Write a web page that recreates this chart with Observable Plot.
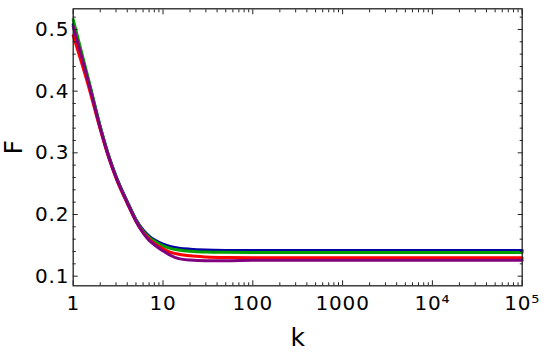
<!DOCTYPE html>
<html>
<head>
<meta charset="utf-8">
<script src="https://cdn.jsdelivr.net/npm/d3@7"></script>
<script src="https://cdn.jsdelivr.net/npm/@observablehq/plot@0.6"></script>
<style>
  html, body { margin: 0; padding: 0; background: #fff; }
  #chart svg { display: block; }
</style>
</head>
<body>
<div id="chart"></div>
<script>
// ---- data ----
const kValues = [1, 1.5, 2, 2.5, 3, 4, 5, 6, 7, 8, 10, 12, 15, 20, 30, 50, 100, 1000, 10000, 100000];
const blueF   = [0.508, 0.413, 0.342, 0.294, 0.262, 0.221, 0.192, 0.175, 0.165, 0.159, 0.1520, 0.1480, 0.1455, 0.1438, 0.1425, 0.1418, 0.1415, 0.1415, 0.1415, 0.1415];
const greenF  = [0.516, 0.416, 0.343, 0.294, 0.261, 0.220, 0.191, 0.173, 0.163, 0.157, 0.1490, 0.1450, 0.1425, 0.1405, 0.1392, 0.1387, 0.1385, 0.1385, 0.1385, 0.1385];
const redF    = [0.490, 0.405, 0.338, 0.291, 0.259, 0.218, 0.189, 0.171, 0.160, 0.153, 0.1445, 0.1390, 0.1355, 0.1330, 0.1312, 0.1302, 0.1298, 0.1298, 0.1298, 0.1298];
const purpleF = [0.505, 0.411, 0.340, 0.292, 0.260, 0.219, 0.189, 0.170, 0.158, 0.151, 0.1410, 0.1340, 0.1285, 0.1262, 0.1252, 0.1252, 0.1258, 0.1260, 0.1260, 0.1260];
const seriesNames  = ["blue", "green", "red", "purple"];
const seriesColors = ["#0000a8", "#00a000", "#ff0000", "#800080"];
const seriesValues = [blueF, greenF, redF, purpleF];

const xMajorTicks  = [1, 10, 100, 1000, 10000, 100000];
const xTickLabels  = ["1", "10", "100", "1000", "10\u2074", "10\u2075"];
const yMajorTicks  = [0.1, 0.2, 0.3, 0.4, 0.5];
const yTickLabels  = ["0.1", "0.2", "0.3", "0.4", "0.5"];
const xTitle = "k";
const yTitle = "F";

// ---- build tables ----
const rows = [];
seriesNames.forEach((name, s) => {
  kValues.forEach((k, i) => rows.push({series: name, k, F: seriesValues[s][i]}));
});
const xMinorTicks = [];
for (let d = 1; d < 100000; d *= 10) for (let m = 2; m <= 9; m++) xMinorTicks.push(d * m);
const yMinorTicks = d3.range(10, 53, 2).map(v => v / 100).filter(v => !yMajorTicks.some(t => Math.abs(t - v) < 1e-9));

const font = "DejaVu Sans, Verdana, sans-serif";
const ink = "#222";

const axisTicks = (axis, anchor, ticks, size) =>
  axis({anchor, ticks, tickSize: -size, text: null, label: null, stroke: ink, strokeWidth: 1});

const chart = Plot.plot({
  width: 550,
  height: 352,
  marginLeft: 72.7,
  marginRight: 28.3,
  marginTop: 8.3,
  marginBottom: 66.7,
  style: {fontFamily: font, background: "#fff", color: "#000"},
  x: {type: "log", domain: [1, 100000]},
  y: {domain: [0.0844, 0.5335]},
  color: {domain: seriesNames, range: seriesColors},
  marks: [
    ...seriesNames.map((name, s) => Plot.line(rows.filter(r => r.series === name), {
      x: "k", y: "F", stroke: seriesColors[s], strokeWidth: 3, curve: "monotone-x"
    })),
    Plot.frame({stroke: ink, strokeWidth: 1.3}),
    axisTicks(Plot.axisX, "bottom", xMajorTicks, 5),
    axisTicks(Plot.axisX, "bottom", xMinorTicks, 3),
    axisTicks(Plot.axisX, "top", xMajorTicks, 5),
    axisTicks(Plot.axisX, "top", xMinorTicks, 3),
    axisTicks(Plot.axisY, "left", yMajorTicks, 5),
    axisTicks(Plot.axisY, "left", yMinorTicks, 3),
    axisTicks(Plot.axisY, "right", yMajorTicks, 5),
    axisTicks(Plot.axisY, "right", yMinorTicks, 3),
    Plot.axisX({
      anchor: "bottom", ticks: xMajorTicks, tickSize: 0, tickPadding: 10,
      tickFormat: d => xTickLabels[xMajorTicks.indexOf(d)],
      fontSize: 20, fill: "#000",
      label: xTitle, labelAnchor: "center", labelArrow: "none", labelOffset: 60
    }),
    Plot.axisY({
      anchor: "left", ticks: yMajorTicks, tickSize: 0, tickPadding: 4,
      tickFormat: d => yTickLabels[yMajorTicks.findIndex(t => Math.abs(t - d) < 1e-9)],
      fontSize: 20, fill: "#000",
      label: yTitle, labelAnchor: "center", labelArrow: "none", labelOffset: 69
    })
  ]
});
// tick label spacing and axis title size
chart.querySelectorAll("g[aria-label='x-axis tick label'], g[aria-label='y-axis tick label']").forEach(g => {
  g.setAttribute("letter-spacing", "0.8");
});
chart.querySelectorAll("g[aria-label='x-axis label'], g[aria-label='y-axis label']").forEach(g => {
  g.setAttribute("font-size", "25");
  g.querySelectorAll("text").forEach(t => t.setAttribute("font-size", "25"));
});
document.getElementById("chart").appendChild(chart);
</script>
</body>
</html>
